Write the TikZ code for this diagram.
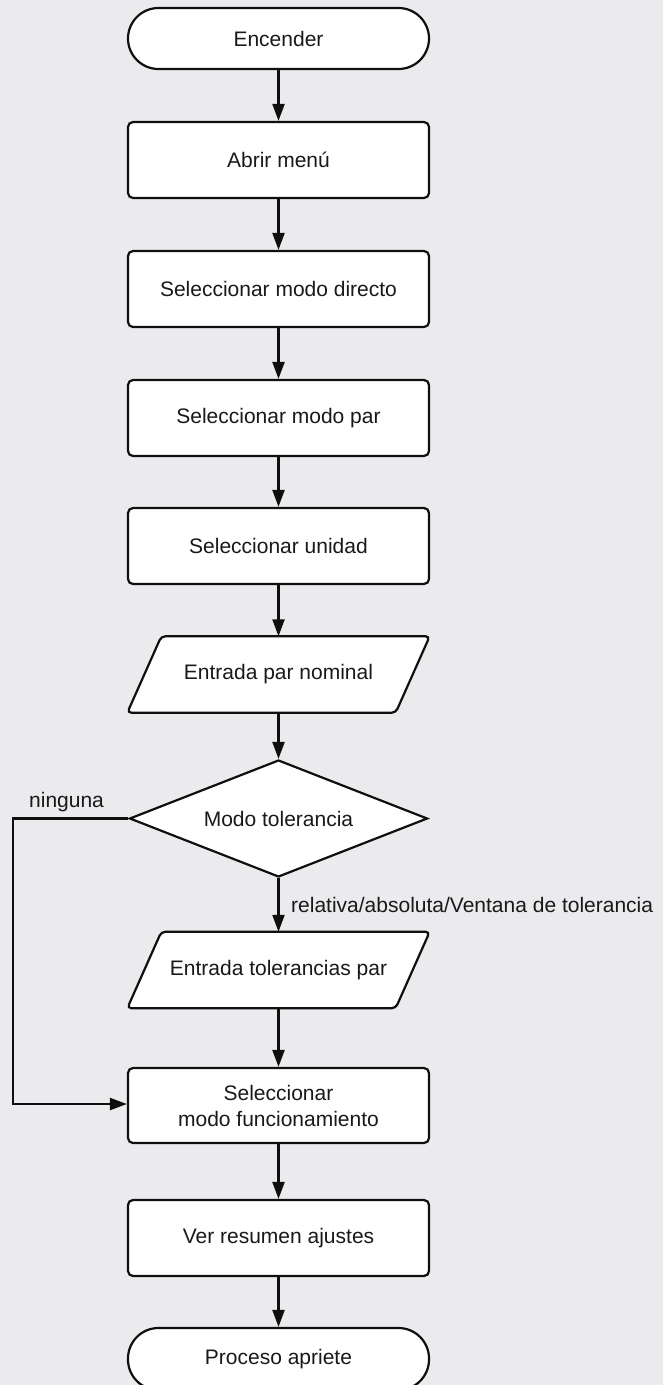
\documentclass[tikz,border=0pt]{standalone}
\usepackage{fontspec}
\setmainfont{Liberation Sans}
\usetikzlibrary{arrows.meta,shapes.geometric,calc}
\definecolor{bgcol}{RGB}{235,235,238}
\definecolor{inkcol}{RGB}{15,15,15}
\definecolor{txtcol}{RGB}{25,25,25}
\begin{document}
\begin{tikzpicture}[x=1pt,y=-1pt,
  every node/.style={font=\fontsize{21}{26}\selectfont, text=txtcol},
  procbox/.style={draw=inkcol, line width=2.2pt, fill=white, rounded corners=5pt,
    minimum width=301pt, minimum height=76pt, inner sep=0pt, align=center},
  termbox/.style={draw=inkcol, line width=2.2pt, fill=white, rounded corners=30.5pt,
    minimum width=301pt, minimum height=61pt, inner sep=0pt},
  paraframe/.style={minimum width=302pt, minimum height=76pt, inner sep=0pt},
  parashape/.style={draw=inkcol, line width=2.2pt, fill=white, rounded corners=4pt},
  decbox/.style={diamond, draw=inkcol, line width=2.2pt, fill=white, aspect=2.55,
    minimum width=298pt, minimum height=117pt, inner sep=0pt},
  flow/.style={draw=inkcol, line width=2.2pt, -{Triangle[length=17pt,width=12pt]}},
  lbl/.style={inner sep=0pt}
]
\fill[bgcol] (0,0) rectangle (663,1385);
\useasboundingbox (0,0) rectangle (663,1385);

\node[termbox] (start) at (278.5,38.5) {Encender};
\node[procbox] (b1) at (278.5,160) {Abrir menú};
\node[procbox] (b2) at (278.5,289) {Seleccionar modo directo};
\node[procbox] (b3) at (278.5,418) {Seleccionar modo par};
\node[procbox] (b4) at (278.5,546) {Seleccionar unidad};

\node[paraframe] (p1) at (278.5,674.5) {};
\draw[parashape] ($(p1.north west)+(34,0)$) -- (p1.north east) -- ($(p1.south east)-(34,0)$) -- (p1.south west) -- cycle;
\node at (p1) {Entrada par nominal};

\node[decbox] (d) at (278.5,818.5) {Modo tolerancia};

\node[paraframe] (p2) at (278.5,970) {};
\draw[parashape] ($(p2.north west)+(34,0)$) -- (p2.north east) -- ($(p2.south east)-(34,0)$) -- (p2.south west) -- cycle;
\node at (p2) {Entrada tolerancias par};

\node[procbox, minimum height=75pt] (b5) at (278.5,1105.5) {Seleccionar\\modo funcionamiento};
\node[procbox] (b6) at (278.5,1238) {Ver resumen ajustes};
\node[termbox, minimum height=62pt] (stop) at (278.5,1359) {Proceso apriete};

\draw[flow] (start) -- (b1);
\draw[flow] (b1) -- (b2);
\draw[flow] (b2) -- (b3);
\draw[flow] (b3) -- (b4);
\draw[flow] (b4) -- (p1.north);
\draw[flow] (p1.south) -- (d);
\draw[flow] (d.south) -- (p2.north);
\draw[flow] (p2.south) -- (b5);
\draw[flow] (b5) -- (b6);
\draw[flow] (b6) -- (stop);

\coordinate (lt) at (13,818.5);
\coordinate (lb) at (13,1104);
\draw[flow] (d.west) -- (lt) -- (lb) -- (b5.west |- lb);

\node[lbl, anchor=west] (lno) at (29,802) {ninguna};
\node[lbl, anchor=west] (lyes) at (291,905) {relativa/absoluta/Ventana de tolerancia};
\end{tikzpicture}
\end{document}
